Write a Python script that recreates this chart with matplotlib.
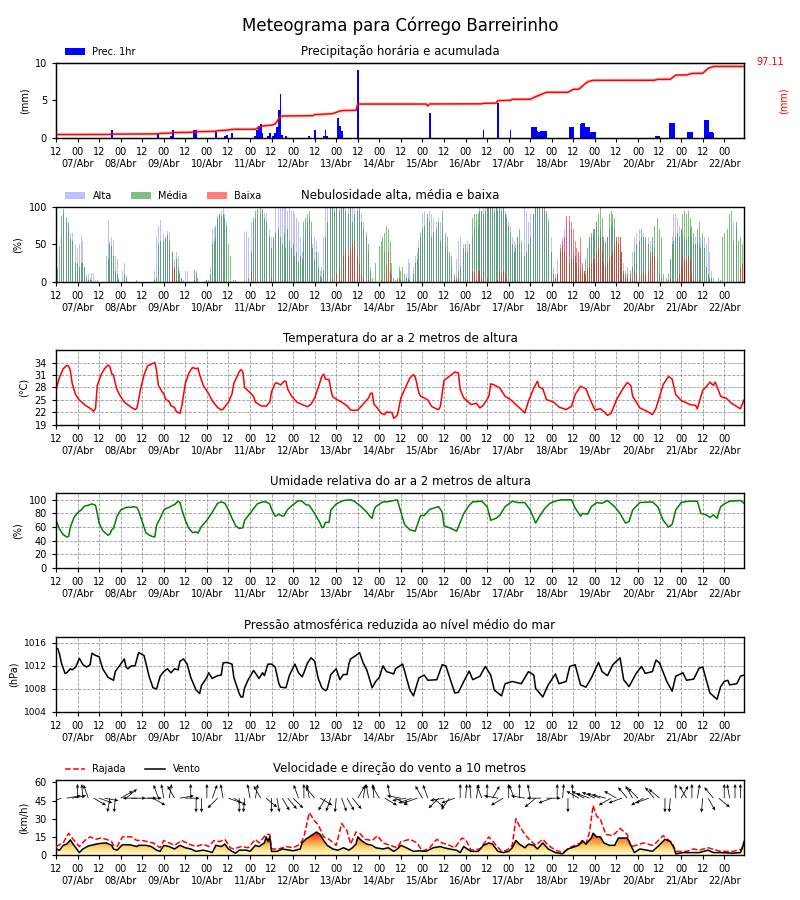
import numpy as np
import matplotlib.pyplot as plt

# eixo de tempo: horas desde 06/Abr 12:00
hora = np.arange(384)

# precipitacao horaria (mm)
prec_h = [31, 57, 64, 65, 77, 78, 89, 94, 95, 98, 111, 112, 113, 114, 115, 118, 119, 121, 122, 123,
          124, 125, 126, 128, 141, 144, 149, 150, 151, 157, 158, 159, 168, 208, 238, 246, 253, 265,
          266, 267, 268, 269, 270, 271, 272, 273, 286, 287, 288, 292, 293, 294, 295, 296, 297, 298,
          299, 300, 334, 335, 336, 342, 343, 344, 352, 353, 354, 361, 362, 363, 364, 365, 366]
prec = [1.0, 0.5, 0.3, 1.0, 1.1, 1.1, 0.8, 0.3, 0.4, 0.7, 0.3, 1.0, 1.6, 1.8, 0.6, 0.3, 0.6, 0.3, 0.6, 1.4,
        3.7, 5.8, 0.4, 0.3, 0.2, 1.1, 0.3, 1.1, 0.3, 2.7, 1.6, 0.9, 9.0, 3.3, 1.1, 4.6, 1.1, 1.5,
        1.5, 1.5, 0.9, 0.8, 0.9, 0.9, 0.9, 0.9, 1.5, 1.5, 1.5, 1.9, 2.0, 2.0, 1.5, 1.5, 1.5, 0.8,
        0.8, 0.8, 0.3, 0.3, 0.2, 2.0, 2.0, 2.0, 0.8, 0.8, 0.8, 2.4, 2.4, 2.4, 0.8, 0.8, 0.6]

# precipitacao acumulada (mm)
acum_h = [0, 29, 31, 56, 58, 64, 66, 77, 79, 88, 90, 95, 98, 111, 113, 115, 120, 122, 124, 125, 128,
          143, 144, 154, 158, 160, 167, 168, 206, 207, 208, 237, 238, 245, 246, 253, 254, 264, 267,
          273, 285, 288, 291, 293, 296, 299, 333, 335, 342, 345, 351, 354, 360, 363, 366, 383]
acum = [0.0, 0.2, 0.6, 1.0, 1.6, 2.2, 2.9, 3.3, 4.2, 4.5, 5.6, 6.2, 7.5, 7.6, 10.5, 12.2, 13.5, 15.0,
        22.5, 26.0, 26.5, 26.9, 28.4, 29.8, 33.5, 34.3, 34.5, 43.5, 43.5, 40.8, 43.6, 43.8, 44.5, 44.8,
        48.3, 48.8, 50.2, 50.3, 54.0, 60.2, 60.3, 64.5, 64.6, 69.1, 75.3, 77.3, 77.4, 78.7, 78.8, 84.8,
        84.9, 87.2, 87.3, 94.4, 97.11, 97.11]
total = 97.11

# nebulosidade (%), uma linha por dia (12h -> 11h)
alta = sum([
    [0, 0, 0, 60, 90, 97, 80, 75, 65, 65, 60, 50, 45, 50, 62, 55, 20, 10, 10, 5, 12, 12, 3, 0],
    [0, 0, 0, 0, 35, 82, 55, 60, 55, 35, 30, 5, 0, 15, 25, 5, 0, 0, 0, 0, 0, 0, 0, 0],
    [0, 0, 0, 0, 0, 0, 8, 15, 60, 75, 82, 70, 65, 60, 68, 65, 60, 40, 30, 40, 35, 15, 5, 3],
    [14, 14, 0, 0, 0, 0, 14, 0, 0, 0, 0, 0, 0, 0, 20, 70, 72, 60, 88, 90, 95, 100, 90, 80],
    [0, 0, 0, 0, 0, 0, 0, 0, 0, 65, 68, 60, 75, 80, 80, 85, 90, 95, 90, 95, 92, 90, 85, 70],
    [60, 55, 100, 100, 100, 100, 100, 100, 100, 95, 100, 95, 95, 90, 85, 80, 60, 40, 55, 70, 80, 85, 60, 50],
    [60, 55, 40, 15, 20, 60, 100, 100, 100, 100, 100, 100, 100, 100, 100, 100, 100, 100, 100, 100, 100, 100, 100, 90],
    [100, 95, 90, 80, 70, 60, 40, 20, 0, 0, 0, 0, 0, 0, 0, 40, 0, 0, 0, 10, 0, 0, 0, 0],
    [0, 0, 0, 10, 30, 25, 0, 20, 35, 40, 55, 60, 90, 95, 90, 85, 95, 90, 85, 90, 80, 85, 80, 75],
    [60, 50, 40, 30, 20, 10, 5, 30, 55, 60, 45, 50, 40, 55, 50, 40, 60, 70, 80, 75, 100, 95, 100, 100],
    [100, 100, 100, 100, 100, 100, 100, 100, 100, 100, 95, 90, 80, 75, 60, 55, 50, 60, 50, 40, 95, 100, 95, 80],
    [90, 95, 90, 100, 100, 100, 100, 100, 95, 90, 85, 80, 60, 20, 10, 30, 50, 50, 60, 70, 85, 85, 80, 70],
    [40, 30, 20, 40, 35, 20, 10, 5, 20, 55, 60, 65, 70, 80, 60, 70, 60, 55, 50, 60, 70, 75, 80, 70],
    [60, 50, 40, 30, 25, 15, 20, 25, 10, 40, 60, 65, 55, 70, 60, 65, 55, 50, 60, 55, 50, 45, 40, 30],
    [10, 5, 0, 0, 0, 0, 30, 60, 90, 90, 85, 75, 70, 65, 60, 55, 60, 70, 60, 50, 60, 55, 50, 60],
    [55, 60, 50, 60, 40, 15, 5, 0, 0, 0, 0, 0, 0, 0, 0, 0, 0, 80, 0, 75, 0, 0, 0, 0],
], [])
media = sum([
    [14, 18, 48, 88, 97, 95, 85, 80, 57, 55, 30, 25, 25, 20, 25, 25, 20, 5, 3, 2, 2, 0, 0, 2],
    [0, 0, 0, 0, 0, 30, 50, 48, 35, 15, 10, 2, 0, 0, 10, 8, 0, 0, 0, 0, 0, 3, 0, 0],
    [0, 0, 0, 0, 0, 0, 0, 3, 5, 50, 55, 58, 55, 58, 62, 55, 60, 40, 20, 30, 20, 10, 5, 0],
    [0, 0, 0, 0, 0, 16, 12, 5, 0, 0, 0, 0, 2, 3, 10, 50, 55, 75, 85, 90, 88, 90, 85, 75],
    [50, 35, 10, 2, 2, 0, 0, 0, 0, 0, 0, 5, 30, 40, 85, 95, 97, 100, 98, 97, 85, 80, 80, 60],
    [45, 60, 65, 80, 70, 60, 50, 65, 45, 70, 55, 45, 50, 35, 40, 25, 35, 30, 80, 85, 90, 95, 80, 45],
    [30, 40, 20, 8, 5, 15, 60, 80, 95, 100, 100, 95, 100, 100, 95, 100, 100, 95, 100, 90, 100, 80, 90, 60],
    [95, 100, 80, 70, 95, 65, 50, 15, 5, 30, 25, 0, 48, 55, 60, 65, 75, 70, 55, 25, 5, 3, 5, 20],
    [15, 20, 10, 5, 5, 3, 0, 10, 25, 30, 45, 65, 70, 75, 60, 90, 80, 60, 65, 50, 70, 80, 55, 95],
    [70, 65, 60, 40, 35, 30, 10, 5, 15, 20, 30, 45, 50, 40, 50, 80, 85, 90, 90, 92, 95, 95, 90, 95],
    [100, 100, 100, 100, 95, 100, 95, 100, 95, 100, 90, 85, 75, 65, 50, 40, 45, 60, 70, 55, 45, 35, 40, 50],
    [60, 75, 90, 100, 100, 100, 95, 100, 100, 95, 80, 70, 40, 10, 5, 10, 30, 40, 45, 40, 35, 30, 25, 30],
    [30, 35, 25, 20, 15, 10, 15, 30, 45, 60, 65, 70, 70, 80, 90, 100, 85, 60, 55, 60, 90, 95, 90, 85],
    [60, 50, 60, 40, 15, 10, 5, 10, 15, 20, 40, 50, 45, 55, 70, 60, 60, 55, 50, 40, 60, 75, 90, 85],
    [70, 60, 10, 5, 5, 10, 30, 50, 55, 60, 65, 60, 70, 90, 95, 90, 95, 85, 75, 65, 50, 70, 80, 45],
    [65, 45, 20, 10, 5, 5, 0, 0, 0, 5, 3, 60, 65, 40, 70, 90, 95, 55, 70, 80, 55, 60, 50, 55],
], [])
baixa = sum([
    [0] * 24,
    [0] * 24,
    [0, 0, 0, 0, 0, 0, 0, 0, 0, 0, 0, 0, 0, 0, 0, 0, 0, 20, 18, 3, 0, 0, 0, 0],
    [0, 0, 0, 0, 0, 3, 0, 0, 0, 0, 0, 0, 3, 0, 0, 0, 0, 0, 0, 0, 0, 0, 0, 0],
    [0, 0, 0, 0, 0, 0, 0, 0, 0, 0, 0, 0, 5, 15, 0, 0, 0, 0, 0, 0, 0, 0, 0, 0],
    [5, 0, 0, 3, 0, 0, 0, 0, 0, 0, 0, 0, 0, 0, 0, 0, 0, 0, 0, 0, 0, 0, 0, 0],
    [0, 0, 0, 0, 0, 0, 0, 0, 3, 0, 5, 0, 10, 0, 20, 0, 35, 40, 45, 35, 45, 50, 53, 40],
    [35, 25, 10, 5, 0, 0, 3, 0, 0, 0, 0, 0, 0, 3, 0, 0, 22, 40, 15, 0, 0, 0, 3, 5],
    [3, 0, 0, 0, 0, 0, 0, 0, 0, 0, 0, 0, 0, 0, 0, 0, 0, 0, 0, 0, 0, 0, 0, 0],
    [0, 0, 0, 0, 0, 0, 3, 3, 5, 0, 3, 0, 0, 3, 0, 10, 15, 12, 3, 15, 15, 5, 15, 0],
    [5, 0, 0, 0, 0, 0, 3, 15, 10, 15, 12, 5, 0, 0, 0, 0, 0, 0, 0, 0, 0, 0, 0, 0],
    [0, 0, 0, 0, 0, 0, 0, 0, 0, 0, 0, 0, 0, 3, 5, 10, 30, 45, 55, 60, 88, 90, 88, 80],
    [70, 55, 45, 40, 60, 25, 15, 10, 15, 20, 25, 30, 30, 40, 45, 60, 40, 25, 20, 25, 30, 35, 40, 50],
    [55, 60, 60, 40, 10, 5, 10, 15, 5, 3, 15, 10, 5, 0, 10, 15, 10, 5, 15, 30, 40, 35, 0, 0],
    [0, 0, 0, 0, 0, 3, 5, 0, 0, 0, 5, 10, 20, 35, 30, 30, 35, 30, 10, 3, 0, 0, 3, 0],
    [0, 0, 0, 0, 0, 0, 0, 0, 0, 0, 0, 0, 0, 0, 0, 0, 0, 0, 0, 0, 0, 20, 25, 20],
], [])

# temperatura (C)
temp_h = [0, 2, 4, 6, 7, 8, 9, 10, 11, 13, 16, 19, 21, 22, 23, 25, 27, 29, 30, 31, 32, 33, 34, 35, 38,
          42, 44, 45, 46, 47, 49, 51, 54, 55, 56, 57, 59, 60, 61, 63, 64, 66, 67, 69, 70, 72, 74, 76,
          78, 79, 80, 82, 85, 87, 90, 92, 93, 96, 98, 99, 102, 103, 104, 105, 108, 110, 111, 114, 117,
          119, 120, 122, 123, 125, 127, 128, 129, 131, 134, 137, 140, 142, 144, 146, 148, 149, 150,
          152, 153, 154, 156, 159, 162, 164, 166, 168, 171, 174, 175, 176, 177, 179, 181, 183, 184,
          187, 188, 190, 192, 194, 197, 199, 200, 201, 202, 203, 205, 207, 209, 212, 213, 214, 216,
          219, 222, 224, 225, 227, 228, 231, 234, 236, 238, 241, 242, 244, 247, 250, 253, 256, 259,
          261, 263, 266, 268, 269, 271, 273, 277, 280, 284, 287, 289, 292, 295, 297, 300, 303, 305,
          307, 309, 312, 315, 318, 320, 321, 325, 329, 332, 334, 338, 341, 343, 345, 348, 353, 356,
          357, 360, 363, 364, 366, 367, 370, 372, 373, 376, 378, 381, 383]
temp = [27.5, 30.5, 32.5, 33.3, 33.2, 32, 29, 27.5, 26.2, 25, 23.8, 23, 22.3, 23, 28.5, 31, 32.5, 33.4,
        33, 31.3, 31, 29, 27.5, 26.5, 24.5, 23.2, 22.7, 23, 25, 27.5, 31, 33.2, 33.8, 34, 32, 28.5, 27,
        26.5, 25.2, 24.6, 23.6, 23.2, 22.2, 21.8, 23.5, 29, 31.5, 32.8, 32.5, 32.7, 31, 28.5, 26.5,
        24.8, 23.2, 22.6, 22.8, 24.5, 26.5, 29, 31.8, 32.3, 31.8, 28, 26.8, 25.8, 24.5, 23.6, 23.5,
        24.5, 27, 29, 29.1, 28.6, 29.5, 29.5, 27.6, 26, 24.5, 23.9, 23.4, 24, 25.5, 28, 30.7, 31.2,
        30, 29.9, 27.5, 25.8, 25.2, 24.5, 23.6, 22.6, 22.5, 22.6, 24, 25.5, 26.5, 26.7, 24, 23, 21.8,
        21.5, 22.1, 22, 20.6, 21.3, 25.5, 27.5, 30.3, 31.1, 30.5, 28.7, 26.7, 25.9, 25.5, 25, 23.5,
        22.8, 22.7, 23.5, 29.7, 30.7, 31.7, 31.5, 27.5, 25.5, 25.1, 23.9, 24.2, 23.1, 23.8, 25.9, 28.9,
        28.6, 27.9, 25.9, 25.1, 23.9, 22.7, 21.9, 24.7, 27.9, 29.5, 28.1, 27.7, 25.1, 24.5, 23.3, 22.7,
        23.5, 26.3, 28.3, 27.7, 25.5, 22.6, 22.9, 22.2, 21.3, 21.8, 25, 27.3, 29.2, 28.5, 25.9, 23.1,
        22.3, 21.5, 23, 28.7, 30.7, 30, 26.3, 24.9, 23.9, 23.7, 22.9, 27.3, 28.7, 29.3, 28.5, 29.3,
        25.9, 25.5, 25.5, 24.2, 23.7, 22.9, 25]

# umidade relativa (%)
umid_h = [0, 2, 4, 6, 7, 8, 10, 12, 14, 16, 18, 20, 22, 23, 24, 26, 28, 29, 30, 31, 32, 34, 36, 39, 42,
          43, 45, 46, 48, 50, 52, 54, 55, 56, 58, 60, 61, 63, 65, 66, 68, 69, 70, 72, 74, 76, 78, 79,
          81, 84, 87, 90, 92, 94, 96, 98, 100, 102, 104, 105, 108, 110, 112, 115, 117, 119, 120, 122,
          123, 124, 126, 127, 129, 132, 135, 137, 139, 141, 144, 147, 148, 149, 150, 152, 153, 156,
          160, 164, 166, 169, 173, 175, 176, 177, 178, 182, 184, 188, 190, 192, 194, 197, 200, 202,
          203, 205, 208, 213, 215, 216, 220, 223, 225, 227, 230, 232, 237, 240, 242, 245, 247, 250,
          254, 257, 261, 264, 267, 269, 272, 275, 279, 282, 287, 289, 292, 293, 296, 298, 301, 304,
          307, 311, 314, 317, 319, 321, 325, 332, 335, 338, 341, 343, 345, 348, 352, 357, 359, 362,
          364, 366, 368, 370, 372, 375, 381, 383]
umid = [70, 57, 49, 45.5, 46, 60, 74, 81, 85, 91, 92, 94, 92, 80, 66, 55, 50, 48, 50, 56, 58, 76, 85,
        89, 89, 90, 89, 84, 68, 52, 48, 46, 45.5, 63, 73, 85, 87, 89, 92, 93, 98, 96, 86, 70, 58, 52,
        53, 51, 61, 70, 82, 95, 97, 95, 85, 73, 62, 58, 59, 70, 80, 87, 94, 97, 97, 94, 86, 76, 77, 79,
        76, 77, 86, 93, 99, 98, 93, 92, 80, 66, 59, 60, 67, 67, 85, 94, 99, 100, 98, 92, 82, 75, 73,
        85, 90, 97, 97, 99, 100, 82, 64, 56, 54, 70, 77, 77, 86, 90, 82, 62, 58, 54, 67, 80, 92, 97,
        98, 90, 70, 73, 77, 90, 98, 96, 96, 85, 66, 75, 87, 95, 99, 100, 100, 88, 76, 80, 79, 90, 96,
        95, 99, 90, 80, 66, 68, 85, 96, 97, 90, 70, 60, 64, 85, 96, 98, 98, 80, 78, 74, 78, 73, 90,
        94, 98, 99, 95]

# pressao (hPa)
pres_h = [0, 1, 2, 3, 5, 6, 8, 9, 11, 13, 15, 17, 19, 20, 22, 24, 26, 29, 32, 33, 36, 38, 39, 40, 42,
          44, 46, 49, 52, 54, 56, 58, 60, 62, 64, 66, 68, 69, 71, 73, 75, 78, 80, 81, 84, 85, 87, 88,
          90, 92, 93, 95, 98, 99, 102, 103, 104, 105, 107, 110, 112, 113, 115, 116, 118, 120, 122,
          124, 125, 128, 130, 133, 135, 137, 138, 140, 142, 144, 146, 148, 150, 151, 153, 156, 158,
          160, 162, 163, 164, 167, 169, 171, 173, 176, 178, 180, 182, 184, 188, 189, 191, 193, 195,
          197, 199, 202, 205, 207, 212, 215, 217, 222, 224, 227, 230, 232, 236, 239, 242, 244, 248,
          250, 254, 259, 263, 266, 267, 271, 274, 278, 280, 284, 286, 289, 292, 295, 298, 302, 304,
          307, 310, 314, 316, 319, 323, 326, 328, 332, 334, 336, 340, 343, 345, 349, 351, 355, 358,
          360, 361, 364, 368, 370, 372, 374, 375, 379, 381, 383]
pres = [1015, 1015, 1014, 1012.5, 1010.7, 1010.8, 1011.5, 1011.3, 1011.8, 1013.3, 1012.2, 1011.8,
        1012.2, 1014.2, 1013.8, 1013.6, 1011.5, 1010, 1009.5, 1011, 1012.3, 1013.2, 1011.8, 1011.5,
        1012, 1012, 1014.3, 1013.8, 1010, 1008.2, 1008, 1010.2, 1011, 1011.5, 1010.8, 1011.5, 1011.3,
        1012.8, 1013.2, 1012.3, 1010, 1007.8, 1007.2, 1008.6, 1010, 1010.8, 1009.8, 1010, 1010.3,
        1010.4, 1012.5, 1012.6, 1012.3, 1010, 1007.2, 1006.6, 1006.6, 1008.2, 1009.6, 1011.2, 1010.3,
        1009.8, 1010.8, 1010.3, 1012.3, 1012.3, 1011.8, 1009, 1008.3, 1008.2, 1010.4, 1012.3, 1010.8,
        1010.1, 1010.8, 1012.5, 1013.4, 1012.8, 1009.8, 1008.2, 1007.7, 1008, 1010.5, 1011.5, 1009.6,
        1010.5, 1010.5, 1012.3, 1013.2, 1013.8, 1014.3, 1012.5, 1011.3, 1008.2, 1009.3, 1010, 1012,
        1011, 1010.6, 1011.5, 1011.9, 1012.3, 1010, 1007.8, 1006.8, 1009.9, 1010.4, 1009.5, 1009.6,
        1012.2, 1012, 1007.3, 1007.4, 1009.3, 1011.1, 1009.6, 1010.2, 1011.9, 1010.4, 1007.8, 1006.8,
        1008.9, 1009.3, 1008.9, 1011, 1010.4, 1008.1, 1006.6, 1008.7, 1010.6, 1008.9, 1009.3, 1011.9,
        1012.2, 1008.7, 1008.3, 1009.9, 1012.6, 1011, 1010.3, 1012.2, 1013.4, 1009.6, 1008.4, 1010.7,
        1011.9, 1010.7, 1011, 1013, 1012.5, 1009.3, 1007.6, 1010.2, 1010.8, 1009.5, 1009.7, 1011.6,
        1011.8, 1010.7, 1007.3, 1006.2, 1008.4, 1009.3, 1009.5, 1008.7, 1008.9, 1010.2, 1010.4]

# vento medio (km/h)
vento_h = [0, 2, 4, 6, 8, 10, 13, 15, 18, 21, 24, 28, 31, 32, 34, 37, 41, 45, 46, 50, 53, 56, 58, 60,
           63, 66, 69, 72, 75, 78, 82, 85, 87, 89, 92, 94, 96, 98, 100, 102, 106, 108, 111, 113, 116,
           117, 118, 119, 120, 123, 126, 130, 132, 136, 137, 139, 141, 143, 145, 147, 149, 151, 154,
           157, 160, 163, 165, 167, 168, 170, 173, 176, 178, 182, 185, 188, 190, 192, 195, 199, 202,
           206, 210, 214, 216, 219, 223, 225, 227, 228, 231, 235, 238, 241, 243, 246, 249, 252, 254,
           256, 258, 261, 263, 266, 268, 271, 274, 278, 282, 285, 289, 291, 293, 295, 298, 299, 301,
           303, 305, 308, 311, 313, 318, 320, 322, 325, 329, 332, 335, 339, 342, 344, 345, 349, 355,
           358, 363, 366, 370, 377, 381, 383]
vento = [5, 4, 8, 9, 12.5, 8, 2, 5, 7.5, 8.5, 9.5, 10, 8, 5, 4, 8.5, 8.5, 7, 8, 8, 7, 4, 3, 8, 7, 5, 8,
         6, 5, 3, 4, 3, 2, 8, 7, 9, 5, 3, 1.5, 4, 4, 3, 8, 7, 10, 15, 11, 15, 3, 3, 5, 4, 3.5, 5, 10,
         13, 15, 17, 19, 17, 12, 8, 5, 4, 6, 4, 6, 9, 15, 12, 9, 8, 6, 5, 6, 3, 5, 8, 6, 3, 3.5, 3, 6,
         7, 6, 5, 4, 2, 7, 6, 3, 3, 8, 10, 9, 3, 2, 3, 6, 12, 9, 6, 9, 8, 5, 10, 5, 2, 1, 5, 7, 8, 12,
         9, 14, 18, 15, 15, 10, 8, 8, 14, 14, 8, 2, 5, 4, 3, 7, 13, 11, 6, 1, 2, 2, 2, 4, 2, 2, 1.5,
         2, 10]

# rajadas (km/h)
rajada_h = [0, 4, 7, 9, 13, 16, 19, 22, 25, 28, 31, 32, 34, 37, 42, 45, 48, 51, 54, 58, 60, 63, 66,
            70, 74, 78, 82, 85, 88, 91, 94, 97, 99, 103, 107, 111, 113, 117, 119, 120, 124, 128, 132,
            136, 138, 141, 144, 146, 149, 152, 156, 159, 162, 164, 167, 169, 172, 176, 179, 182, 186,
            190, 192, 197, 201, 204, 208, 212, 215, 219, 222, 226, 228, 231, 236, 239, 241, 245, 248,
            251, 254, 256, 258, 261, 264, 267, 271, 274, 278, 282, 286, 290, 293, 295, 297, 299, 301,
            303, 306, 310, 314, 318, 320, 323, 327, 332, 334, 338, 343, 345, 351, 355, 358, 363, 370,
            377, 382, 383]
rajada = [7, 10, 18, 14, 7, 12, 15, 13, 14, 13, 11, 8, 7, 15, 15, 12, 12, 11, 10, 6, 12, 10, 8, 12, 9,
          7, 9, 7, 12, 11, 13, 6, 5, 7, 6, 13, 10, 17, 17, 5, 5, 7, 6, 9, 15, 35, 28, 25, 15, 13, 8, 26,
          20, 9, 19, 18, 13, 12, 16, 10, 8, 6, 11, 13, 10, 3, 6, 13, 10, 8, 6, 14, 13, 4, 5, 11, 15, 8,
          3, 4, 8, 30, 24, 17, 12, 8, 13, 8, 4, 2, 6, 9, 10, 9, 19, 41, 32, 30, 17, 16, 22, 17, 7, 8, 10,
          8, 10, 16, 10, 3, 3, 5, 4, 6, 3, 3, 5, 12]

# direcao do vento (graus, de onde sopra), a cada 3 horas
direcao = [170, 70, 260, 260, 180, 175, 160, 300, 290, 280, 10, 5, 240, 230, 270, 90,
           270, 270, 300, 160, 170, 190, 150, 260, 270, 180, 0, 0, 180, 200, 45, 170,
           290, 300, 0, 5, 170, 190, 150, 310, 0, 350, 330, 320, 315, 160, 180, 170,
           140, 300, 30, 20, 5, 340, 330, 320, 210, 190, 170, 175, 150, 300, 170, 300,
           100, 80, 70, 70, 150, 160, 310, 45, 80, 35, 70, 180, 185, 175, 190, 160,
           180, 210, 100, 60, 180, 160, 180, 100, 170, 50, 90, 270, 70, 180, 185, 0,
           175, 120, 120, 110, 115, 110, 105, 60, 120, 70, 140, 150, 135, 60, 70, 140,
           130, 0, 5, 180, 210, 150, 180, 190, 5, 330, 140, 310, 180, 170, 180, 180]
dir_h = np.arange(0, 384, 3)

xt = np.arange(0, 384, 12)
xl = ['12' if (t // 12) % 2 == 0 else '00\n%02d/Abr' % (7 + t // 24) for t in xt]

fig = plt.figure(figsize=(8, 9), dpi=100)
fig.text(0.5, 0.971, 'Meteograma para Córrego Barreirinho', ha='center', va='center', fontsize=12)

fundos = [0.8467, 0.6867, 0.5278, 0.3689, 0.2089, 0.05]
axs = [fig.add_axes([0.07, b, 0.86, 0.0833]) for b in fundos]


def eixo_tempo(ax, grade=False):
    ax.set_xlim(0, 383)
    ax.set_xticks(xt)
    ax.set_xticklabels(xl)
    ax.tick_params(labelsize=7, length=3)
    for s in ax.spines.values():
        s.set_linewidth(1.0)
    if grade:
        ax.grid(True, ls='--', color='gray', lw=0.6, alpha=0.8)


# 1) precipitacao
ax = axs[0]
ax.bar(prec_h, prec, width=1.0, color='blue', label='Prec. 1hr')
ax.set_ylim(0, 10)
ax.set_yticks([0, 5, 10])
ax.set_ylabel('(mm)', fontsize=7)
ax.set_title('Precipitação horária e acumulada', fontsize=8.5)
ax.legend(loc='lower left', bbox_to_anchor=(0.005, 1.0), frameon=False, fontsize=7, borderaxespad=0.2)
eixo_tempo(ax)
ax2 = ax.twinx()
ax2.plot(acum_h, acum, color='red', lw=2.5, alpha=0.15)
ax2.plot(acum_h, acum, color='red', lw=1.1)
ax2.set_yticks([])
ax2.set_xlim(0, 383)
ax.text(1.038, 1.01, '%.2f' % total, color='red', fontsize=7, ha='center', va='center', transform=ax.transAxes)
ax.text(1.057, 0.5, '(mm)', color='red', fontsize=7, rotation=90, ha='center', va='center', transform=ax.transAxes)

# 2) nebulosidade
ax = axs[1]
ax.bar(hora, alta, width=0.5, color='blue', alpha=0.25, label='Alta')
ax.bar(hora, media, width=0.5, color='green', alpha=0.5, label='Média')
ax.bar(hora, baixa, width=0.5, color='red', alpha=0.5, label='Baixa')
ax.set_ylim(0, 100)
ax.set_yticks([0, 50, 100])
ax.set_ylabel('(%)', fontsize=7)
ax.set_title('Nebulosidade alta, média e baixa', fontsize=8.5)
ax.legend(loc='lower left', bbox_to_anchor=(0.005, 1.0), frameon=False, fontsize=7, ncol=3, borderaxespad=0.2)
eixo_tempo(ax)

# 3) temperatura
ax = axs[2]
ax.plot(temp_h, temp, color='red', lw=1.1)
ax.set_ylim(19, 37)
ax.set_yticks([19, 22, 25, 28, 31, 34])
ax.set_ylabel('(°C)', fontsize=7)
ax.set_title('Temperatura do ar a 2 metros de altura', fontsize=8.5)
eixo_tempo(ax, grade=True)

# 4) umidade
ax = axs[3]
ax.plot(umid_h, umid, color='green', lw=1.1)
ax.set_ylim(0, 110)
ax.set_yticks(range(0, 101, 20))
ax.set_ylabel('(%)', fontsize=7)
ax.set_title('Umidade relativa do ar a 2 metros de altura', fontsize=8.5)
eixo_tempo(ax, grade=True)

# 5) pressao
ax = axs[4]
ax.plot(pres_h, pres, color='black', lw=1.1)
ax.set_ylim(1004, 1017)
ax.set_yticks([1004, 1008, 1012, 1016])
ax.set_ylabel('(hPa)', fontsize=7)
ax.set_title('Pressão atmosférica reduzida ao nível médio do mar', fontsize=8.5)
eixo_tempo(ax, grade=True)
ax.tick_params(axis='y', labelsize=6.5)

# 6) vento
ax = axs[5]
grad = np.linspace(0, 1, 256).reshape(-1, 1)
im = ax.imshow(grad, extent=[0, 383, 0, 24], origin='lower', aspect='auto', cmap='YlOrRd', zorder=1)
area = ax.fill_between(vento_h, 0, vento, facecolor='none', edgecolor='none')
im.set_clip_path(area.get_paths()[0], transform=ax.transData)
ax.plot(rajada_h, rajada, color='red', ls='--', lw=1.1, label='Rajada', zorder=3)
ax.plot(vento_h, vento, color='black', lw=1.1, label='Vento', zorder=3)
rad = np.deg2rad(direcao)
ax.quiver(dir_h, np.full(len(dir_h), 47), -np.sin(rad), -np.cos(rad), angles='uv', pivot='tail',
          scale_units='inches', scale=7, width=0.0011, headwidth=4.5, headlength=5, headaxislength=4.5,
          color='black', zorder=4)
ax.set_ylim(0, 62)
ax.set_yticks([0, 15, 30, 45, 60])
ax.set_ylabel('(km/h)', fontsize=7)
ax.set_title('Velocidade e direção do vento a 10 metros', fontsize=8.5)
ax.legend(loc='lower left', bbox_to_anchor=(0.005, 1.0), frameon=False, fontsize=7, ncol=2, borderaxespad=0.2)
eixo_tempo(ax)

plt.savefig('out.png', dpi=100)
